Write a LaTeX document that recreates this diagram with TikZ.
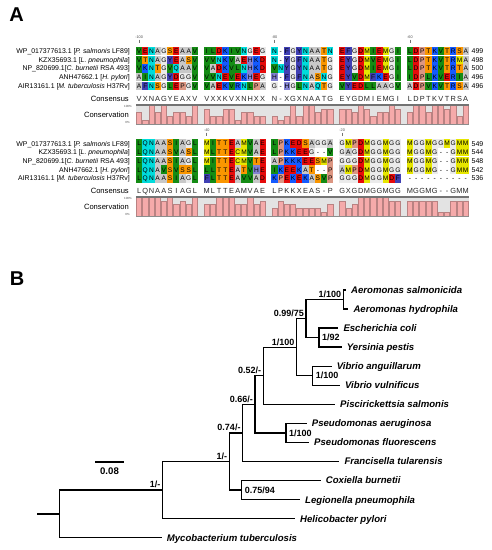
\documentclass[tikz,border=0pt]{standalone}
\usepackage{fontspec}
\setmainfont{Liberation Sans}
\usepackage{tikz}

%% residue colours
\definecolor{resA}{HTML}{C8C8C8}
\definecolor{resG}{HTML}{EBEBEB}
\definecolor{resD}{HTML}{E60A0A}
\definecolor{resE}{HTML}{E60A0A}
\definecolor{resC}{HTML}{E6E600}
\definecolor{resM}{HTML}{E6E600}
\definecolor{resK}{HTML}{145AFF}
\definecolor{resR}{HTML}{145AFF}
\definecolor{resS}{HTML}{FA9600}
\definecolor{resT}{HTML}{FA9600}
\definecolor{resF}{HTML}{4040B4}
\definecolor{resY}{HTML}{4040B4}
\definecolor{resN}{HTML}{00DCDC}
\definecolor{resQ}{HTML}{00DCDC}
\definecolor{resL}{HTML}{148C14}
\definecolor{resV}{HTML}{148C14}
\definecolor{resI}{HTML}{148C14}
\definecolor{resW}{HTML}{B45AB4}
\definecolor{resH}{HTML}{8282D2}
\definecolor{resP}{HTML}{DC9682}
\definecolor{consfill}{HTML}{F5AAAA}
\definecolor{consedge}{HTML}{B98282}
\definecolor{consbg}{HTML}{E3E3E3}

\tikzset{
  panel/.style={inner sep=0pt, font=\fontsize{20}{22}\bfseries},
  alnres/.style={inner sep=0pt, minimum width=6.2pt, minimum height=8.4pt,
    text height=4.8pt, text depth=0pt, font=\fontsize{6.6}{7}\selectfont},
  alncon/.style={inner sep=0pt, text height=5.2pt, text depth=0pt,
    font=\fontsize{7.4}{8}\selectfont, text=black!85},
  seqname/.style={anchor=east, inner sep=0pt, text height=5pt, text depth=0pt,
    font=\fontsize{6.9}{8}\selectfont},
  seqnum/.style={anchor=west, inner sep=0pt, text height=5pt, text depth=0pt,
    font=\fontsize{7}{8}\selectfont},
  alnlabel/.style={anchor=east, inner sep=0pt, text height=5.5pt, text depth=0pt,
    font=\fontsize{7.6}{8}\selectfont},
  alntiny/.style={anchor=east, inner sep=0pt, font=\fontsize{3}{3.5}\selectfont, text=black!70},
  postext/.style={inner sep=0pt, font=\fontsize{3.8}{4}\selectfont, text=black!70},
  postick/.style={black!55, line width=0.7pt},
  consbar/.style={fill=consfill, draw=consedge, line width=0.5pt},
  consline/.style={black!55, line width=1.2pt},
  consbase/.style={black!45, line width=0.6pt},
  branch/.style={line width=1.4pt},
  leaf/.style={anchor=west, inner xsep=5pt, inner ysep=0pt, text height=6.9pt,
    text depth=0pt, font=\fontsize{9.6}{11}\bfseries\itshape},
  blabel/.style={inner sep=2pt, text height=6.4pt, text depth=0pt,
    font=\fontsize{9}{10}\bfseries}
}

%% one row of the alignment, read letter by letter
\newcount\alncol
\newif\ifalncons
\newcommand\alnrow[3]{%
  \global\alncol=0\relax
  \def\alnid{#1}\def\alny{#2}%
  \alnnext#3\relax}
\def\alnnext#1{%
  \ifx#1\relax\else
    \alncell{#1}\global\advance\alncol by 1\relax
    \expandafter\alnnext
  \fi}
\newcommand\alncell[1]{%
  \pgfmathsetmacro\alnx{136+6.2*\the\alncol+5.7*floor(\the\alncol/10)+3.1}%
  \edef\alnname{\alnid-\the\alncol}%
  \ifalncons
    \node[alncon] (\alnname) at (\alnx,\alny) {#1};%
  \else\ifx#1-%
    \node[alnres] (\alnname) at (\alnx,\alny) {-};%
  \else
    \node[alnres,fill=res#1] (\alnname) at (\alnx,\alny) {#1};%
  \fi\fi}

%% conservation bars, one count (out of 5) per column
\newcommand\alnbars[2]{%
  \foreach \c [count=\k from 0] in {#2} {
    \pgfmathsetmacro\alnx{136+6.2*\k+5.7*floor(\k/10)}
    \draw[consbar] (\alnx+0.5,#1) rectangle (\alnx+5.7,#1-3.8*\c);
  }}

%% sequence names and lengths
\newcommand\alnnames[2]{%
  \foreach \t [count=\i from 0] in {{WP\_017377613.1 [\textit{P. salmonis} LF89]},
      {KZX35693.1 [\textit{L. pneumophila}]}, {NP\_820699.1[\textit{C. burnetii} RSA 493]},
      {ANH47662.1 [\textit{H. pylori}]}, {AIR13161.1 [\textit{M. tuberculosis} H37Rv]}}
    \node[seqname] (#1n\i) at (130,#2+8.7*\i) {\t};}
\newcommand\alnnums[3]{%
  \foreach \t [count=\i from 0] in {#3}
    \node[seqnum] (#1l\i) at (471.5,#2+8.7*\i) {\t};}

\newcommand\alntick[4]{%
  \node[postext] (#1) at (#2,#3) {#4};
  \draw[postick] ([yshift=-1pt]#1.south) -- ++(0,3.5);}

\begin{document}
\begin{tikzpicture}[x=1pt,y=-1pt]
\useasboundingbox (0,0) rectangle (492,550);

%% Panel A
\node[panel] (pa) at (16.5,14.5) {A};

%% first line of the alignment
\alntick{ta1}{139.1}{37}{-100}
\alntick{ta2}{274.5}{37}{-80}
\alntick{ta3}{409.9}{37}{-60}
\alnnames{a}{51}
\alnrow{a1}{51}{VENAGSEAAV ILDKIVNGEG N-FGYNAATN EFGDMIEMGI LDPTKVTRSA}
\alnrow{a2}{59.7}{VTNAGYEASV VVNKVAEHKD N-YGFNAATG EYGDMVEMGI LDPTKVTRMA}
\alnrow{a3}{68.4}{VKNTGVQAAV VADKVLNHKD VNYGYNAATG EYGDMIEMGI LDPTKVTRTA}
\alnrow{a4}{77.1}{AINAGYDGGV VVNEVEKHEG H-FGFNASNG EYVDMFKEGI IDPLKVERIA}
\alnrow{a5}{85.8}{AFNSGLEPGV VAEKVRNLPA G-HGLNAQTG VYEDLLAAGV ADPVKVTRSA}
\alnnums{a}{51}{499,498,500,496,496}
\alnconstrue
\alnrow{ac}{99}{VXNAGYEAXV VXXKVXNHXX N-XGXNAATG EYGDMIEMGI LDPTKVTRSA}
\alnconsfalse
\node[alnlabel] (acons) at (129,99) {Consensus};
\node[alnlabel] (acnsv) at (129,114.5) {Conservation};
\node[alntiny] (atop) at (132,106.5) {100\%};
\node[alntiny] (abot) at (130,122.5) {0\%};
\fill[consbg] (136,105) rectangle (468.8,124);
\alnbars{124}{3,1,5,3,5,2,3,3,2,5, 4,2,2,4,4,1,3,3,2,2, 2,1,2,5,2,5,5,3,4,4,
  4,4,3,5,4,2,3,3,5,4, 3,5,5,3,5,5,4,5,2,5}
\draw[consline] (136,105) -- (468.8,105);
\draw[consbase] (136,124) -- (468.8,124);

%% second line of the alignment
\alntick{tb1}{206.8}{130}{-40}
\alntick{tb2}{342.2}{130}{-20}
\alnnames{b}{143.5}
\alnrow{b1}{143.5}{LQNAASIAGL MITTEAMVAE LPKEDSAGGA GMPDMGGMGG MGGMGGMGMM}
\alnrow{b2}{152.2}{LQNAASVASL MLTTECMVAE LPKKEEG--V GAGDMGGMGG MGGMG--GMM}
\alnrow{b3}{160.9}{LQNAASIAGL MITTECMVTE APKKKEESMP GGGDMGGMGG MGGMG--GMM}
\alnrow{b4}{169.6}{LQNAVSVSSL LLTTEATVHE IKEEKAT--P AMPDMGGMGG MGGMG--GMM}
\alnrow{b5}{178.3}{LQNAASIAGL FLTTEAVVAD KPEKEKASVP GGGDMGGMDF ----------}
\alnnums{b}{143.5}{549,544,548,542,536}
\alnconstrue
\alnrow{bc}{191}{LQNAASIAGL MLTTEAMVAE LPKKXEAS-P GXGDMGGMGG MGGMG--GMM}
\alnconsfalse
\node[alnlabel] (bcons) at (129,191) {Consensus};
\node[alnlabel] (bcnsv) at (129,206.5) {Conservation};
\node[alntiny] (btop) at (132,198.5) {100\%};
\node[alntiny] (bbot) at (130,214.5) {0\%};
\fill[consbg] (136,197) rectangle (468.8,216);
\alnbars{216}{5,5,5,5,4,5,3,4,3,5, 3,3,5,5,5,3,3,5,3,4, 2,4,3,3,2,2,2,2,1,3,
  4,2,3,5,5,5,5,5,4,4, 4,4,4,4,4,1,1,4,4,4}
\draw[consline] (136,197) -- (468.8,197);
\draw[consbase] (136,216) -- (468.8,216);

%% Panel B
\node[panel] (pb) at (17,278.5) {B};

%% leaves
\node[leaf] (asal) at (346,290) {Aeromonas salmonicida};
\node[leaf] (ahyd) at (348.3,309.05) {Aeromonas hydrophila};
\node[leaf] (ecol) at (338.3,328.1) {Escherichia coli};
\node[leaf] (ypes) at (341.7,347.15) {Yersinia pestis};
\node[leaf] (vang) at (331.7,366.2) {Vibrio anguillarum};
\node[leaf] (vvul) at (340,385.25) {Vibrio vulnificus};
\node[leaf] (psal) at (335,404.3) {Piscirickettsia salmonis};
\node[leaf] (paer) at (306.7,423.35) {Pseudomonas aeruginosa};
\node[leaf] (pflu) at (309,442.4) {Pseudomonas fluorescens};
\node[leaf] (ftul) at (339.3,461.45) {Francisella tularensis};
\node[leaf] (cbur) at (320.7,480.5) {Coxiella burnetii};
\node[leaf] (lpne) at (300,499.55) {Legionella pneumophila};
\node[leaf] (hpyl) at (295,518.6) {Helicobacter pylori};
\node[leaf] (mtub) at (161.7,537.65) {Mycobacterium tuberculosis};

%% inner nodes
\coordinate (naer) at (343.3,299.5);
\coordinate (ney) at (319,337.6);
\coordinate (nhi) at (306,318.6);
\coordinate (nvib) at (312.7,375.7);
\coordinate (ngam) at (296.7,347.2);
\coordinate (npis) at (263.3,375.7);
\coordinate (npse) at (286,432.9);
\coordinate (nsix) at (255,404.3);
\coordinate (nsev) at (242.7,432.9);
\coordinate (nleg) at (241.7,490);
\coordinate (nup) at (229.3,461.5);
\coordinate (nlow) at (162.5,490);
\coordinate (nroot) at (59.3,513.8);
\coordinate (nstub) at (37.3,513.8);

%% branches
\draw[branch] (nstub) -- (nroot);
\foreach \p/\c in {nroot/nlow, nroot/mtub.west, nlow/nup, nlow/hpyl.west,
    nup/nsev, nup/nleg, nleg/cbur.west, nleg/lpne.west, nsev/nsix, nsev/ftul.west,
    nsix/npis, nsix/npse, npse/paer.west, npse/pflu.west, npis/ngam, npis/psal.west,
    ngam/nhi, ngam/nvib, nvib/vang.west, nvib/vvul.west, nhi/naer, nhi/ney,
    ney/ecol.west, ney/ypes.west, naer/asal.west, naer/ahyd.west}
  \draw[branch] (\p) |- (\c);

%% support values
\node[blabel,anchor=south east] (llow) at (nlow) {1/-};
\node[blabel,anchor=south east] (lup) at (nup) {1/-};
\node[blabel,anchor=south east] (lsev) at (nsev) {0.74/-};
\node[blabel,anchor=south east] (lsix) at (nsix) {0.66/-};
\node[blabel,anchor=south east] (lpis) at (npis) {0.52/-};
\node[blabel,anchor=south east] (lgam) at (ngam) {1/100};
\node[blabel,anchor=south east] (lhi) at (nhi) {0.99/75};
\node[blabel,anchor=south east] (laer) at (naer) {1/100};
\node[blabel,anchor=west,inner xsep=3pt] (ley) at (ney) {1/92};
\node[blabel,anchor=west,inner xsep=3pt] (lvib) at (nvib) {1/100};
\node[blabel,anchor=west,inner xsep=3pt] (lpse) at (npse) {1/100};
\node[blabel,anchor=west,inner xsep=3pt] (lleg) at (nleg) {0.75/94};

%% scale bar
\coordinate (sbl) at (95,462);
\coordinate (sbr) at (124,462);
\draw[branch] (sbl) -- (sbr);
\node[blabel,font=\fontsize{9.6}{10}\bfseries] (sbt) at (109.5,471) {0.08};

\end{tikzpicture}
\end{document}
